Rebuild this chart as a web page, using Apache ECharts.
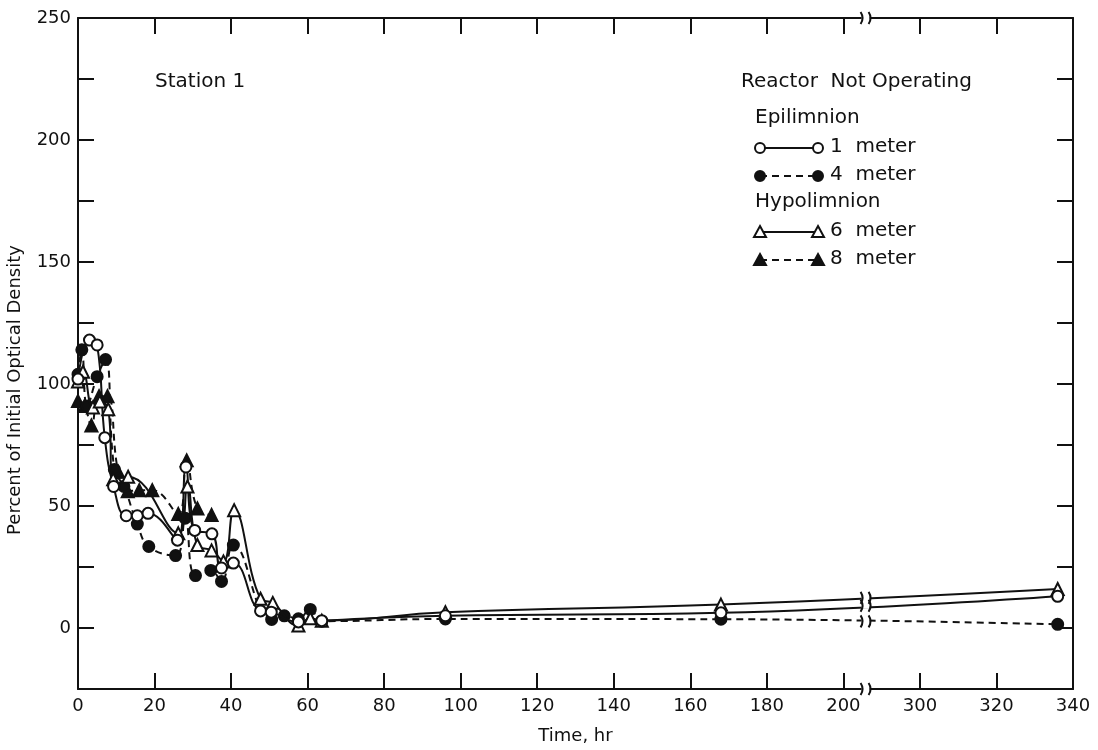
<!DOCTYPE html>
<html>
<head>
<meta charset="utf-8">
<script src="https://cdn.jsdelivr.net/npm/echarts@6/dist/echarts.min.js"></script>
<style>
  html, body { margin: 0; padding: 0; background: #fff; }
  #chart { width: 1098px; height: 750px; }
</style>
</head>
<body>
<div id="chart"></div>
<script>
// Station 1, reactor not operating: optical density as percent of initial value
const FONT = 'DejaVu Sans';

// Time axis is broken between 200 and 300 hr
const BREAK_FROM = 200;
const BREAK_SHIFT = 80;          // 300 hr sits one tick after 200 hr
const BREAK_MARK_AT = 205.8;     // axis position of the break symbol

const xTickLabels = [0, 20, 40, 60, 80, 100, 120, 140, 160, 180, 200, 300, 320, 340];

// Epilimnion, 1 meter
const hours1m = [0, 3, 5, 7, 9.3, 12.6, 15.5, 18.3, 26, 28.2, 30.5, 35, 37.5, 40.6, 47.7, 50.5, 57.6, 63.7, 96, 168, 336];
const od1m    = [102, 118, 116, 78, 58, 46, 46, 47, 36, 66, 40, 38.6, 24.6, 26.6, 7, 6.5, 2.5, 3, 5, 6.2, 13];

// Epilimnion, 4 meter
const hours4m = [0, 1, 2.4, 5, 7.2, 9.5, 12, 15.5, 18.5, 25.5, 28, 30.7, 34.7, 37.5, 40.6, 50.6, 53.9, 57.6, 60.7, 63.7, 96, 168, 336];
const od4m    = [104, 114, 91, 103, 110, 65, 58, 42.6, 33.4, 29.7, 45, 21.5, 23.6, 19.1, 34, 3.5, 5, 3.8, 7.6, 2.8, 3.7, 3.6, 1.5];

// Hypolimnion, 6 meter
const hours6m = [0, 1.3, 3.9, 5.7, 7.9, 9.2, 13.1, 26.2, 28.6, 31.2, 34.9, 38, 40.8, 47.7, 50.9, 57.6, 60.7, 63.7, 96, 168, 336];
const od6m    = [101, 105, 90.4, 92.8, 89.7, 61, 62, 38.8, 58, 34, 31.8, 27.3, 48.3, 12, 10.3, 1, 4, 3, 6.5, 9.6, 16];

// Hypolimnion, 8 meter
const hours8m = [0, 1.7, 3.5, 5.5, 7.7, 10.5, 13, 16, 19.4, 26.2, 28.4, 31.2, 34.9];
const od8m    = [93, 91, 83, 95, 95, 64, 56, 56.5, 56.5, 46.7, 68.7, 49, 46.3];

// hours -> position on the broken time axis
function axisPos(h) { return h <= BREAK_FROM ? h : h - BREAK_SHIFT; }
function axisLabel(p) { return p <= BREAK_FROM ? p : p + BREAK_SHIFT; }
function toPoints(hours, vals) { return hours.map((h, i) => [axisPos(h), vals[i]]); }

const INK = '#111';
const solid = { color: INK, width: 2 };
const dashed = { color: INK, width: 2, type: [7, 5] };

function lineSeries(name, hours, vals, symbol, filled, lineStyle, size) {
  return {
    name, type: 'line', data: toPoints(hours, vals),
    smooth: 0.45, symbol, symbolSize: size,
    lineStyle,
    itemStyle: { color: filled ? INK : '#fff', borderColor: INK, borderWidth: 2 },
    emphasis: { disabled: true },
    z: filled ? 3 : 4
  };
}

const chart = echarts.init(document.getElementById('chart'), null, { renderer: 'canvas' });

const axisTxt = { color: INK, fontFamily: FONT, fontSize: 18 };
const tickStyle = { inside: true, length: 16, lineStyle: { color: INK, width: 2 } };
const axLine = { show: true, onZero: false, lineStyle: { color: INK, width: 2 } };

chart.setOption({
  animation: false,
  backgroundColor: '#fff',
  grid: { left: 78, right: 25, top: 18, bottom: 56 },
  xAxis: [{
    type: 'value', min: 0, max: axisPos(340), interval: 20,
    axisLine: axLine, axisTick: tickStyle, splitLine: { show: false },
    axisLabel: Object.assign({ margin: 8, formatter: v => String(axisLabel(v)),
      customValues: xTickLabels.map(axisPos), showMinLabel: true, showMaxLabel: true }, axisTxt),
    name: 'Time, hr', nameLocation: 'middle', nameGap: 38,
    nameTextStyle: Object.assign({}, axisTxt, { fontSize: 18 })
  }, {
    type: 'value', position: 'top', min: 0, max: axisPos(340), interval: 20,
    axisLine: axLine, axisTick: tickStyle, axisLabel: { show: false }, splitLine: { show: false }
  }],
  yAxis: [{
    type: 'value', min: -25, max: 250, interval: 25,
    axisLine: axLine, axisTick: tickStyle, splitLine: { show: false },
    axisLabel: Object.assign({ margin: 7, formatter: v => (v % 50 === 0 ? String(v) : '') }, axisTxt)
  }, {
    type: 'value', position: 'right', min: -25, max: 250, interval: 25,
    axisLine: axLine, axisTick: tickStyle, axisLabel: { show: false }, splitLine: { show: false }
  }],
  series: [
    lineSeries('8 meter', hours8m, od8m, 'triangle', true, dashed, 12),
    lineSeries('4 meter', hours4m, od4m, 'circle', true, dashed, 11),
    lineSeries('6 meter', hours6m, od6m, 'triangle', false, solid, 12),
    lineSeries('1 meter', hours1m, od1m, 'circle', false, solid, 11)
  ]
});

// ---- legend and annotations ----
const g = [];
function txt(x, y, s, size, rot) {
  g.push({ type: 'text', x, y, rotation: rot || 0, silent: true, z: 20,
    style: { text: s, fill: INK, font: `${size}px "${FONT}"`,
      align: rot ? 'center' : 'left', verticalAlign: 'middle' } });
}
function sample(y, symbol, filled, dash) {
  const x1 = 760, x2 = 818;
  g.push({ type: 'line', silent: true, z: 20,
    shape: { x1, y1: y, x2, y2: y },
    style: { stroke: INK, lineWidth: 2, lineDash: dash ? [7, 5] : null } });
  [x1, x2].forEach(x => {
    if (symbol === 'circle') {
      g.push({ type: 'circle', silent: true, z: 21, shape: { cx: x, cy: y, r: 5 },
        style: { fill: filled ? INK : '#fff', stroke: INK, lineWidth: 2 } });
    } else {
      g.push({ type: 'polygon', silent: true, z: 21,
        shape: { points: [[x, y - 6], [x + 6, y + 5], [x - 6, y + 5]] },
        style: { fill: filled ? INK : '#fff', stroke: INK, lineWidth: 2 } });
    }
  });
}
txt(15, 390, 'Percent of Initial Optical Density', 18, Math.PI / 2);
txt(155, 82, 'Station 1', 20);
txt(741, 82, 'Reactor  Not Operating', 20);
txt(755, 118, 'Epilimnion', 20);
sample(148, 'circle', false, false); txt(830, 147, '1  meter', 20);
sample(176, 'circle', true, true);   txt(830, 175, '4  meter', 20);
txt(755, 202, 'Hypolimnion', 20);
sample(232, 'triangle', false, false); txt(830, 231, '6  meter', 20);
sample(260, 'triangle', true, true);   txt(830, 259, '8  meter', 20);

// break symbols on the axes and on the long-term lines
function breakMark(px, py) {
  g.push({ type: 'rect', silent: true, z: 30, shape: { x: px - 4, y: py - 3, width: 8, height: 6 },
    style: { fill: '#fff' } });
  [-4, 4].forEach(dx => {
    g.push({ type: 'bezierCurve', silent: true, z: 31,
      shape: { x1: px + dx - 1, y1: py - 6, x2: px + dx - 1, y2: py + 6, cpx1: px + dx + 3, cpy1: py },
      style: { stroke: INK, lineWidth: 2, fill: null } });
  });
}
const bx = chart.convertToPixel({ xAxisIndex: 0 }, BREAK_MARK_AT);
breakMark(bx, chart.convertToPixel({ yAxisIndex: 0 }, 250));
breakMark(bx, chart.convertToPixel({ yAxisIndex: 0 }, -25));
[[hours1m, od1m], [hours4m, od4m], [hours6m, od6m]].forEach(([h, v]) => {
  const n = h.length, p0 = axisPos(h[n - 2]), p1 = axisPos(h[n - 1]);
  const f = (BREAK_MARK_AT - p0) / (p1 - p0);
  const val = v[n - 2] + f * (v[n - 1] - v[n - 2]);
  breakMark(bx, chart.convertToPixel({ yAxisIndex: 0 }, val));
});
chart.setOption({ graphic: { elements: g } });
</script>
</body>
</html>
